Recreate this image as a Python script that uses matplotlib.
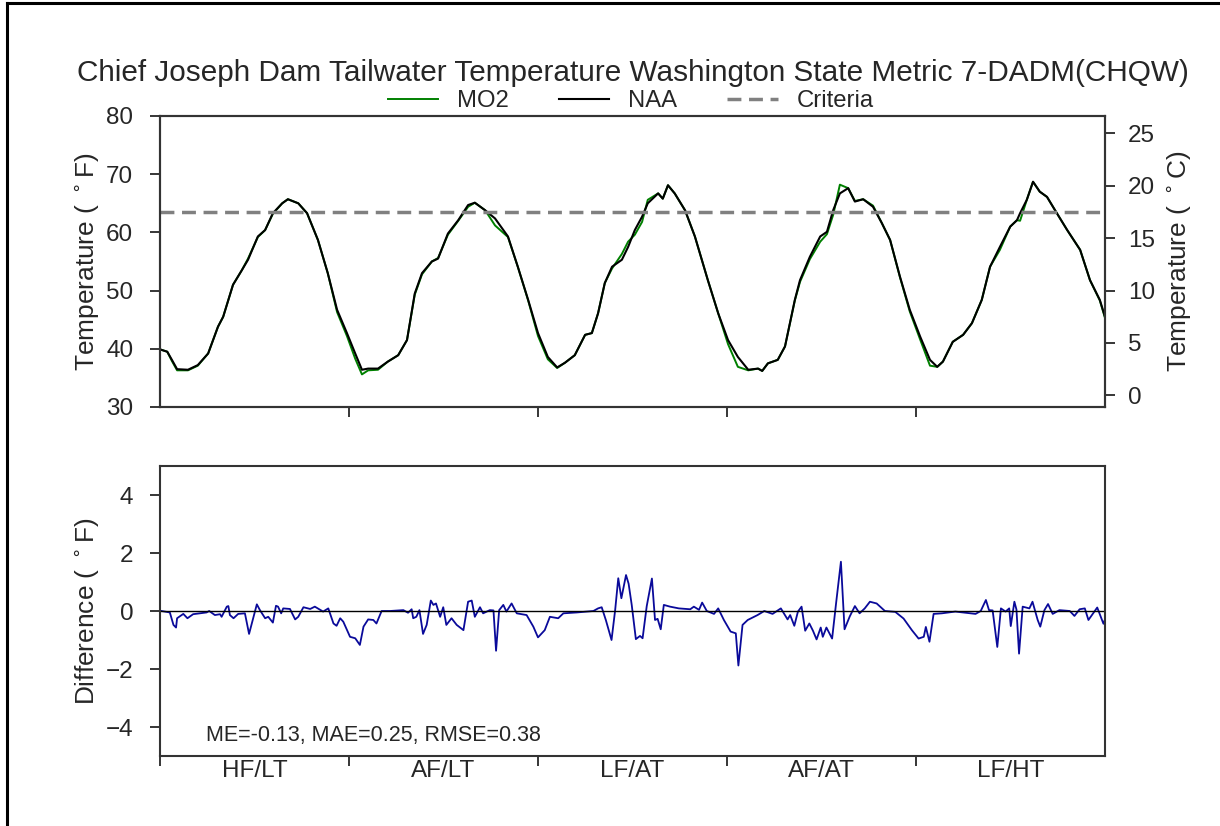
import matplotlib
matplotlib.use("Agg")
import matplotlib.pyplot as plt
from matplotlib.lines import Line2D
import numpy as np

plt.rcParams['font.family'] = ['Liberation Sans', 'DejaVu Sans']
plt.rcParams['text.color'] = '#262626'
plt.rcParams['axes.labelcolor'] = '#262626'
plt.rcParams['xtick.color'] = '#262626'
plt.rcParams['ytick.color'] = '#262626'
plt.rcParams['axes.edgecolor'] = '#333333'

TITLE = "Chief Joseph Dam Tailwater Temperature Washington State Metric 7-DADM(CHQW)"
SCENARIOS = ["HF/LT", "AF/LT", "LF/AT", "AF/AT", "LF/HT"]
CRITERIA_F = 63.5
STATS_TEXT = "ME=-0.13, MAE=0.25, RMSE=0.38"

# day index (0..1825) and 7-DADM temperature in deg F
NAA_DAYS = [0, 14, 23, 33, 54, 73, 93, 112, 122, 141, 158, 170, 189, 203, 218, 236, 247, 267,
            284, 305, 324, 342, 361, 377, 390, 402, 421, 440, 460, 477, 492, 506, 525, 537,
            556, 576, 595, 608, 628, 647, 672, 691, 711, 730, 749, 767, 782, 801, 821, 834,
            846, 859, 873, 892, 904, 917, 931, 942, 962, 971, 981, 994, 1014, 1033, 1058,
            1078, 1097, 1116, 1136, 1155, 1163, 1174, 1193, 1207, 1226, 1236, 1255, 1275,
            1288, 1300, 1313, 1329, 1342, 1358, 1377, 1394, 1410, 1429, 1448, 1468, 1487,
            1501, 1512, 1531, 1551, 1568, 1587, 1603, 1622, 1642, 1655, 1661, 1674, 1686,
            1699, 1713, 1732, 1752, 1777, 1796, 1815, 1825]
NAA_F = [39.9, 39.5, 38.1, 36.5, 36.4, 37.2, 39.2, 43.8, 45.5, 51.0, 53.5, 55.3, 59.3, 60.4,
         63.3, 65.0, 65.7, 65.0, 63.3, 58.7, 53.0, 46.7, 42.7, 39.2, 36.4, 36.6, 36.6, 37.8,
         38.9, 41.5, 49.5, 53.0, 55.0, 55.5, 59.8, 62.1, 64.7, 65.1, 63.8, 62.4, 59.3, 54.1,
         48.4, 42.7, 38.6, 36.8, 37.6, 38.9, 42.4, 42.7, 46.1, 51.3, 54.1, 55.3, 57.5, 60.4,
         62.7, 65.0, 66.7, 65.8, 68.1, 66.7, 63.8, 59.3, 51.8, 46.1, 41.5, 38.6, 36.4, 36.6,
         36.2, 37.5, 38.1, 40.4, 48.4, 51.8, 55.8, 59.3, 60.1, 63.8, 66.7, 67.6, 65.3, 65.7,
         64.4, 61.6, 58.7, 52.4, 46.7, 42.1, 38.1, 36.9, 37.8, 41.2, 42.4, 44.4, 48.4, 54.1,
         57.5, 61.0, 62.1, 63.3, 65.6, 68.7, 67.0, 66.1, 63.3, 60.4, 57.0, 51.8, 48.4, 45.5]
MO2_F = [39.9, 39.5, 37.9, 36.3, 36.3, 37.1, 39.2, 43.8, 45.5, 51.0, 53.5, 55.5, 59.2, 60.4,
         63.2, 65.0, 65.7, 65.0, 63.3, 58.7, 53.0, 46.3, 42.2, 38.3, 35.6, 36.3, 36.4, 37.8,
         38.9, 41.5, 49.3, 52.8, 55.0, 55.6, 59.6, 62.0, 64.4, 65.1, 63.8, 61.2, 59.2, 54.1,
         48.3, 42.2, 38.2, 36.7, 37.6, 38.9, 42.4, 42.7, 46.1, 51.3, 53.8, 56.3, 58.4, 59.6,
         61.8, 65.6, 66.7, 65.8, 68.1, 66.7, 63.8, 59.3, 51.8, 46.1, 40.8, 36.9, 36.3, 36.6,
         36.2, 37.5, 38.1, 40.4, 48.3, 51.5, 55.4, 58.4, 59.7, 63.0, 68.2, 67.6, 65.4, 65.7,
         64.6, 61.6, 58.7, 52.3, 46.4, 41.6, 37.1, 36.9, 37.8, 41.2, 42.4, 44.4, 48.4, 54.1,
         57.0, 61.0, 62.1, 62.0, 65.6, 68.7, 67.0, 66.1, 63.3, 60.4, 57.0, 51.8, 48.3, 45.3]

# MO2 - NAA difference, deg F
DIFF_DAYS = [3, 19, 26, 31, 33, 45, 53, 64, 90, 95, 106, 116, 119, 129, 132, 135, 142, 151,
             164, 172, 180, 187, 193, 203, 209, 218, 224, 228, 234, 238, 251, 261, 267, 277,
             290, 299, 315, 325, 335, 341, 348, 354, 367, 377, 386, 393, 402, 412, 418, 428,
             444, 470, 479, 486, 489, 495, 501, 508, 515, 523, 528, 533, 541, 547, 553, 563,
             573, 586, 595, 602, 608, 618, 624, 637, 644, 649, 655, 663, 669, 679, 689, 708,
             721, 730, 743, 753, 769, 779, 805, 837, 846, 853, 861, 872, 879, 885, 891, 900,
             905, 911, 919, 927, 932, 940, 950, 956, 961, 967, 973, 985, 1002, 1024, 1031,
             1041, 1047, 1056, 1070, 1078, 1089, 1102, 1112, 1117, 1125, 1135, 1154, 1167,
             1183, 1199, 1212, 1217, 1225, 1232, 1239, 1246, 1254, 1261, 1268, 1276, 1280,
             1287, 1298, 1306, 1315, 1322, 1332, 1342, 1351, 1361, 1371, 1384, 1400, 1420,
             1436, 1452, 1465, 1475, 1479, 1486, 1494, 1510, 1536, 1575, 1585, 1595, 1601,
             1608, 1617, 1624, 1633, 1640, 1643, 1650, 1654, 1659, 1666, 1679, 1685, 1695,
             1700, 1708, 1715, 1724, 1737, 1757, 1766, 1776, 1786, 1793, 1802, 1810, 1822, 1825]
DIFF_F = [0.0, -0.05, -0.48, -0.57, -0.25, -0.1, -0.25, -0.11, -0.05, 0.0, -0.14, -0.11, -0.2,
          0.15, 0.17, -0.14, -0.25, -0.1, -0.08, -0.79, -0.25, 0.23, 0.03, -0.25, -0.2, -0.4,
          0.18, 0.15, -0.08, 0.09, 0.07, -0.29, -0.2, 0.13, 0.07, 0.15, -0.02, 0.09, -0.43,
          -0.51, -0.25, -0.37, -0.89, -0.94, -1.17, -0.54, -0.29, -0.31, -0.43, 0.0, 0.0,
          0.03, -0.06, 0.06, -0.25, -0.2, 0.03, -0.79, -0.48, 0.36, 0.21, 0.26, -0.2, 0.13,
          -0.48, -0.25, -0.48, -0.66, 0.32, 0.36, -0.2, 0.13, -0.08, 0.03, 0.02, -1.37, 0.03,
          0.21, -0.02, 0.26, -0.08, -0.14, -0.54, -0.91, -0.66, -0.2, -0.25, -0.08, -0.05,
          0.0, 0.09, 0.13, -0.31, -1.0, 0.03, 1.13, 0.44, 1.24, 0.94, 0.21, -0.97, -0.86,
          -0.94, 0.17, 1.12, -0.31, -0.27, -0.63, 0.21, 0.15, 0.09, 0.06, 0.15, 0.04, 0.29,
          0.0, -0.1, 0.09, -0.31, -0.71, -0.77, -1.88, -0.48, -0.31, -0.14, 0.0, -0.1, 0.09,
          -0.29, -0.14, -0.51, -0.02, 0.15, -0.68, -0.43, -0.68, -0.98, -0.57, -0.89, -0.57,
          -0.95, 0.32, 1.70, -0.63, -0.19, 0.17, -0.08, 0.09, 0.32, 0.26, 0.0, -0.03, -0.26,
          -0.66, -0.95, -0.89, -0.55, -1.06, -0.1, -0.08, -0.02, -0.1, 0.0, 0.38, 0.03, 0.02,
          -1.24, 0.09, -0.02, 0.09, -0.52, 0.32, 0.05, -1.47, 0.15, 0.09, 0.32, -0.31, -0.54,
          0.03, 0.24, -0.1, 0.03, 0.0, -0.17, 0.06, 0.09, -0.31, -0.08, 0.12, -0.44, -0.29]

YEAR_EDGES = [0, 365, 730, 1095, 1460, 1825]

fig = plt.figure(figsize=(12.2, 8.26), dpi=100)
W, H = 1220, 826
ax1 = fig.add_axes([160 / W, 1 - 407 / H, 945 / W, 291 / H])
ax2 = fig.add_axes([160 / W, 1 - 756 / H, 945 / W, 290 / H])

TICK_FS = 17.5
LABEL_FS = 18.9

# --- top panel
l_mo2, = ax1.plot(NAA_DAYS, MO2_F, color='green', lw=1.4, label='MO2')
l_naa, = ax1.plot(NAA_DAYS, NAA_F, color='black', lw=1.5, label='NAA')
l_crit = ax1.axhline(CRITERIA_F, color='gray', lw=2.5, ls=(0, (4, 2.2)), label='Criteria')
ax1.set_xlim(0, 1825)
ax1.set_ylim(30, 80)
ax1.set_yticks([30, 40, 50, 60, 70, 80])
ax1.set_xticks(YEAR_EDGES[1:-1])
ax1.set_xticklabels([])
ax1.set_ylabel(r'Temperature ( $^\circ$F)', fontsize=LABEL_FS, labelpad=3.5)
ax1.tick_params(axis='y', labelsize=TICK_FS, length=7.2, width=1.3, pad=12, direction='out')
ax1.tick_params(axis='x', length=7.2, width=1.3, direction='out')

axc = ax1.twinx()
axc.set_ylim((30 - 32) / 1.8, (80 - 32) / 1.8)
axc.set_yticks([0, 5, 10, 15, 20, 25])
axc.set_ylabel(r'Temperature ( $^\circ$C)', fontsize=LABEL_FS, labelpad=7)
axc.tick_params(axis='y', labelsize=TICK_FS, length=7.2, width=1.3, pad=9.5, direction='out')

for a in (ax1, ax2, axc):
    for s in a.spines.values():
        s.set_linewidth(1.5)

fig.legend(handles=[l_mo2, l_naa, l_crit], loc='center', bbox_to_anchor=(0.517, 1 - 101 / H),
           ncol=3, frameon=False, fontsize=17.2, handlelength=2.1, columnspacing=2.1,
           handletextpad=0.8, borderpad=0.0)

fig.suptitle(TITLE, fontsize=21.4, x=0.519, y=1 - 73 / H, va='center')

# --- bottom panel
ax2.plot(DIFF_DAYS, DIFF_F, color='#0a0a9a', lw=1.3)
ax2.axhline(0, color='black', lw=1.0)
ax2.set_xlim(0, 1825)
ax2.set_ylim(-5, 5)
ax2.set_yticks([-4, -2, 0, 2, 4])
ax2.set_ylabel(r'Difference ( $^\circ$F)', fontsize=LABEL_FS, labelpad=3.5)
ax2.tick_params(axis='y', labelsize=TICK_FS, length=7.2, width=1.3, pad=12, direction='out')
ax2.set_xticks(YEAR_EDGES[:-1])
ax2.set_xticklabels([])
ax2.tick_params(axis='x', which='major', length=7.2, width=1.3, direction='out')
mids = [(YEAR_EDGES[i] + YEAR_EDGES[i + 1]) / 2 for i in range(len(SCENARIOS))]
ax2.set_xticks(mids, minor=True)
ax2.set_xticklabels(SCENARIOS, minor=True, fontsize=TICK_FS)
ax2.tick_params(axis='x', which='minor', length=0, pad=3)
ax2.text(0.0487, 0.072, STATS_TEXT, transform=ax2.transAxes, fontsize=15.5, va='center')

# figure frame (top and left edges)
fig.add_artist(Line2D([7 / W, 1], [1 - 3 / H, 1 - 3 / H], color='black', lw=2.2,
                      transform=fig.transFigure))
fig.add_artist(Line2D([7 / W, 7 / W], [0, 1 - 3 / H], color='black', lw=2.2,
                      transform=fig.transFigure))

fig.savefig('out.png', dpi=100)
